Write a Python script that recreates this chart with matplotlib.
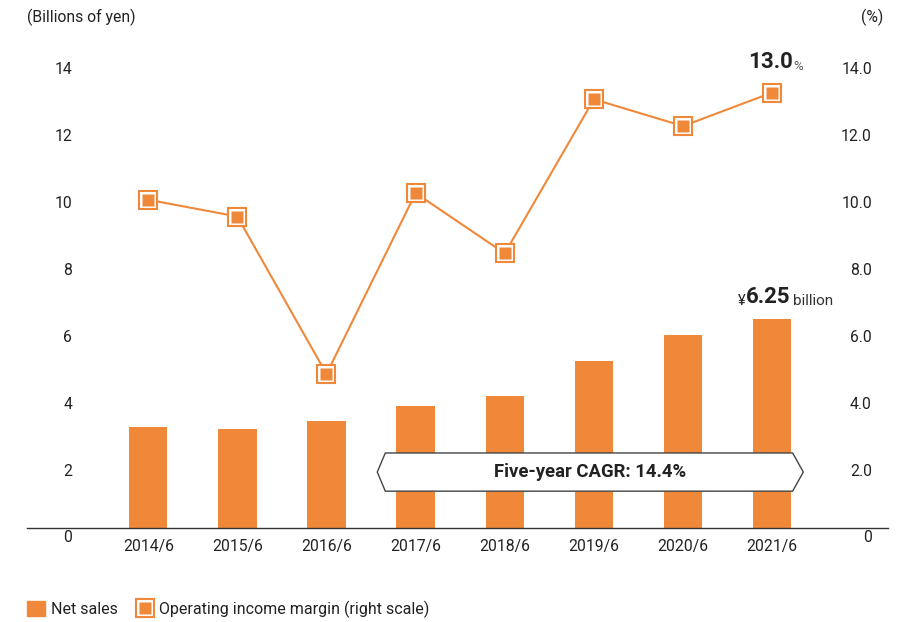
import numpy as np
import matplotlib
matplotlib.use("Agg")
import matplotlib.pyplot as plt
import matplotlib.transforms as mtransforms
from matplotlib.patches import Patch, Polygon
from matplotlib.lines import Line2D
from matplotlib.legend_handler import HandlerTuple

plt.rcParams['font.family'] = ['Roboto', 'DejaVu Sans']

# Fiscal years (June year-end)
years = ["2014/6", "2015/6", "2016/6", "2017/6", "2018/6", "2019/6", "2020/6", "2021/6"]
# Net sales, billions of yen
net_sales = [3.01, 2.96, 3.19, 3.64, 3.94, 4.99, 5.76, 6.25]
# Operating income margin, %
op_margin = [9.8, 9.3, 4.6, 10.0, 8.2, 12.8, 12.0, 13.0]

left_ticks = [0, 2, 4, 6, 8, 10, 12, 14]
right_ticks = ["0", "2.0", "4.0", "6.0", "8.0", "10.0", "12.0", "14.0"]

ORANGE = '#F0883A'
TEXT = '#222222'
FS = 11.3

fig = plt.figure(figsize=(9.17, 6.22), dpi=100)
ax = fig.add_axes([27 / 917, 94 / 622, 861 / 917, 489 / 622])
x = np.arange(len(years))

ax.bar(x, net_sales, width=0.43, color=ORANGE, zorder=2)
ax.set_xlim(-1.36, 8.30)
ax.set_ylim(0, 14.6)
ax.set_xticks(x, years)
ax.set_yticks([])
ax.tick_params(axis='x', length=0, pad=8, labelsize=FS, labelcolor=TEXT)
for side in ('left', 'right', 'top'):
    ax.spines[side].set_visible(False)
ax.spines['bottom'].set_color('#333333')
ax.spines['bottom'].set_linewidth(1.0)

# margin line on its own (right) scale
ax2 = ax.twinx()
ax2.set_ylim(0, 14.6)
ax2.set_yticks([])
for side in ax2.spines:
    ax2.spines[side].set_visible(False)
ax2.plot(x, op_margin, color=ORANGE, lw=1.5, zorder=3)
ax2.plot(x, op_margin, ls='none', marker='s', ms=13, mfc='white', mec=ORANGE, mew=1.5, zorder=4)
ax2.plot(x, op_margin, ls='none', marker='s', ms=8.5, mfc=ORANGE, mec='none', zorder=5)

# tick labels sit a little below their gridline positions
shift = mtransforms.ScaledTranslation(0, -0.10, fig.dpi_scale_trans)
trans = mtransforms.blended_transform_factory(fig.transFigure, ax.transData) + shift
for v, rl in zip(left_ticks, right_ticks):
    ax.text(72 / 917, v, str(v), transform=trans, ha='right', va='center', fontsize=FS, color=TEXT)
    ax.text(872 / 917, v, rl, transform=trans, ha='right', va='center', fontsize=FS, color=TEXT)

fig.text(27 / 917, 1 - 17 / 622, "(Billions of yen)", ha='left', va='center', fontsize=FS, color=TEXT)
fig.text(883 / 917, 1 - 17 / 622, "(%)", ha='right', va='center', fontsize=FS, color=TEXT)

# callout for the latest margin
t = ax2.annotate(f"{op_margin[-1]:.1f}", xy=(x[-1], op_margin[-1]), xytext=(-1, 18),
                 textcoords='offset points', ha='center', va='baseline',
                 fontsize=16, fontweight='bold', color=TEXT)
ax2.annotate("%", xy=(1, 0), xycoords=t, xytext=(0, 0), textcoords='offset points',
             ha='left', va='bottom', fontsize=9.5, color='#555555')

# callout for the latest net sales
s = ax.annotate(f"{net_sales[-1]:.2f}", xy=(x[-1], net_sales[-1]), xytext=(-3, 11.5),
                textcoords='offset points', ha='center', va='baseline',
                fontsize=16, fontweight='bold', color=TEXT)
ax.annotate("¥", xy=(0, 0), xycoords=s, xytext=(-0.5, 0), textcoords='offset points',
            ha='right', va='bottom', fontsize=10.5, color=TEXT)
ax.annotate("billion", xy=(1, 0), xycoords=s, xytext=(2, 0), textcoords='offset points',
            ha='left', va='bottom', fontsize=11, color='#333333')

# five-year CAGR banner
cagr = (net_sales[-1] / net_sales[2]) ** (1 / 5) - 1
banner = Polygon([(2.57, 1.67), (2.66, 2.24), (7.23, 2.24), (7.35, 1.67), (7.23, 1.10), (2.66, 1.10)],
                 closed=True, facecolor='white', edgecolor='#444444', lw=1.0, zorder=6)
ax2.add_patch(banner)
ax2.text(4.96, 1.67, f"Five-year CAGR: {cagr * 100:.1f}%", ha='center', va='center',
         fontsize=13.3, fontweight='bold', color=TEXT, zorder=7)

# legend
outer = Line2D([], [], ls='none', marker='s', ms=13, mfc='white', mec=ORANGE, mew=1.5)
inner = Line2D([], [], ls='none', marker='s', ms=8.5, mfc=ORANGE, mec='none')
fig.legend([Patch(color=ORANGE), (outer, inner)],
           ["Net sales", "Operating income margin (right scale)"],
           handler_map={tuple: HandlerTuple(ndivide=1, pad=0)},
           loc='lower left', bbox_to_anchor=(27 / 917, 4 / 622), borderaxespad=0, borderpad=0,
           frameon=False, ncol=2, fontsize=11.5, handlelength=1.15, handleheight=1.1,
           handletextpad=0.35, columnspacing=1.1, labelcolor=TEXT)

fig.savefig("out.png", dpi=100)
